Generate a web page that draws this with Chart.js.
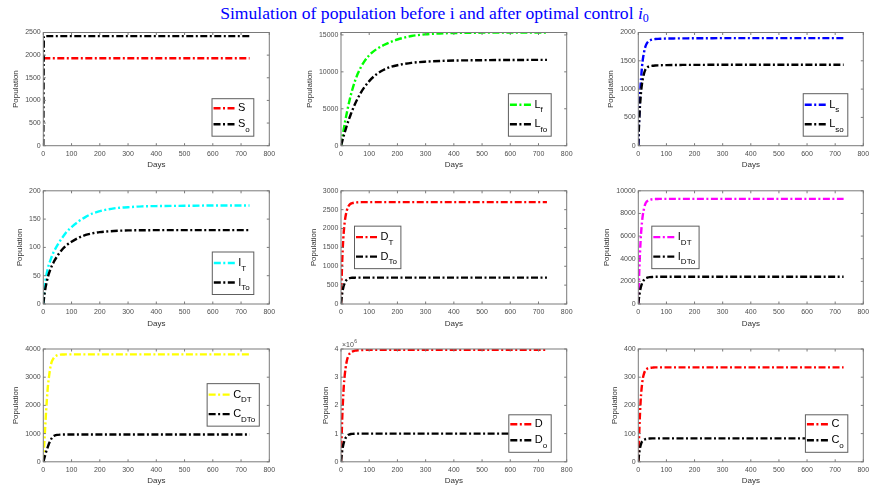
<!DOCTYPE html>
<html><head><meta charset="utf-8">
<script src="https://cdn.jsdelivr.net/npm/chart.js@4"></script>
<style>
html,body{margin:0;padding:0;background:#fff;width:869px;height:488px;overflow:hidden;position:relative}
#title{position:absolute;left:0;top:3px;width:869px;text-align:center;font:17.6px 'Liberation Serif',serif;line-height:20px;color:#0000ff;white-space:nowrap}
#title sub{font-size:12px;vertical-align:-3px;line-height:0}
canvas{position:absolute}
</style></head><body>
<div id="title">Simulation of population before i and after optimal control <i>i</i><sub>0</sub></div>
<script>
// ---------- data ----------
const days = [0, 2, 4, 6, 8, 10, 13, 16, 20, 25, 30, 35, 40, 50, 60, 70, 80, 100, 125, 150, 175, 200, 250, 300, 350, 400, 500, 600, 730];
const xTicks = [0, 100, 200, 300, 400, 500, 600, 700, 800];

const S   = [1930,1930,1930,1930,1930,1930,1930,1930,1930,1930,1930,1930,1930,1930,1930,1930,1930,1930,1930,1930,1930,1930,1930,1930,1930,1930,1930,1930,1930];
const So  = [0,2420,2420,2420,2420,2420,2420,2420,2420,2420,2420,2420,2420,2420,2420,2420,2420,2420,2420,2420,2420,2420,2420,2420,2420,2420,2420,2420,2420];

const Lf  = [0,480,950,1410,1860,2300,2940,3550,4330,5250,6100,6880,7580,8800,9800,10600,11250,12250,13050,13600,14030,14380,14850,15080,15200,15260,15310,15325,15330];
const Lfo = [0,280,560,840,1110,1380,1770,2150,2640,3220,3770,4290,4780,5680,6470,7160,7760,8750,9650,10250,10650,10900,11220,11380,11470,11530,11580,11610,11620];

const Ls  = [0,345,625,855,1045,1200,1385,1520,1640,1745,1805,1838,1857,1876,1884,1888,1890,1893,1895,1896,1897,1898,1899,1900,1900,1900,1900,1900,1900];
const Lso = [0,285,515,700,840,960,1090,1180,1270,1340,1375,1393,1403,1412,1417,1420,1422,1424,1426,1427,1428,1428,1429,1430,1430,1430,1430,1430,1430];

const IT  = [0,14,26,35,42,49,56,63,70,77,84,90,95,104,112,119,126,136,146,154,160,164,169,171,172.5,173,173.5,174,174];
const ITo = [0,8,16,23,29,34,41,47,54,61,67,72,77,85,92,98,103,110,117,122,125,127,129,130,130.3,130.5,130.6,130.6,130.6];

const DT  = [0,600,1070,1440,1720,1930,2160,2320,2460,2570,2630,2660,2675,2690,2695,2698,2700,2700,2700,2700,2700,2700,2700,2700,2700,2700,2700,2700,2700];
const DTo = [0,150,270,360,430,490,550,600,640,670,685,692,695,698,700,700,700,700,700,700,700,700,700,700,700,700,700,700,700];

const IDT  = [0,1800,3300,4500,5500,6300,7200,7850,8400,8850,9050,9150,9200,9250,9270,9280,9290,9290,9290,9290,9290,9290,9290,9290,9290,9290,9290,9290,9290];
const IDTo = [0,450,820,1120,1370,1570,1800,1970,2120,2250,2310,2350,2370,2390,2400,2405,2410,2410,2410,2410,2410,2410,2410,2410,2410,2410,2410,2410,2410];

const CDT  = [0,400,750,1100,1450,1800,2250,2650,3000,3350,3550,3650,3720,3780,3800,3805,3810,3810,3810,3810,3810,3810,3810,3810,3810,3810,3810,3810,3810];
const CDTo = [0,70,140,210,280,350,440,530,640,750,840,900,930,955,965,968,970,970,970,970,970,970,970,970,970,970,970,970,970];

const D   = [0,800000,1450000,1950000,2350000,2700000,3050000,3300000,3550000,3730000,3830000,3880000,3910000,3940000,3955000,3960000,3965000,3970000,3970000,3970000,3970000,3970000,3970000,3970000,3970000,3970000,3970000,3970000,3970000];
const Do  = [0,200000,370000,500000,600000,680000,770000,840000,900000,950000,970000,985000,990000,995000,1000000,1000000,1000000,1000000,1000000,1000000,1000000,1000000,1000000,1000000,1000000,1000000,1000000,1000000,1000000];

const C   = [0,60,120,170,210,240,272,295,312,324,329,332,333,334,335,335,335,335,335,335,335,335,335,335,335,335,335,335,335];
const Co  = [0,20,36,48,57,64,71,75,78,80,81.5,82,82.5,83,83,83,83,83,83,83,83,83,83,83,83,83,83,83,83];

const yTicks1 = [0,500,1000,1500,2000,2500];
const yTicks2 = [0,5000,10000,15000];
const yTicks3 = [0,500,1000,1500,2000];
const yTicks4 = [0,50,100,150,200];
const yTicks5 = [0,500,1000,1500,2000,2500,3000];
const yTicks6 = [0,2000,4000,6000,8000,10000];
const yTicks7 = [0,1000,2000,3000,4000];
const yTicks8 = [0,1000000,2000000,3000000,4000000];
const yTicks9 = [0,100,200,300,400];

const yMax = [2500, 15330, 2000, 200, 3000, 10000, 4000, 4000000, 400];

const legendMain = [["S","S"],["L","L"],["L","L"],["I","I"],["D","D"],["I","I"],["C","C"],["D","D"],["C","C"]];
const legendSub  = [["","o"],["f","fo"],["s","so"],["T","To"],["T","To"],["DT","DTo"],["DT","DTo"],["","o"],["","o"]];
const seriesColors = ["#ff0000","#00ff00","#0000ff","#00ffff","#ff0000","#ff00ff","#ffff00","#ff0000","#ff0000"];

// ---------- layout / styling ----------
const series = [[S,So],[Lf,Lfo],[Ls,Lso],[IT,ITo],[DT,DTo],[IDT,IDTo],[CDT,CDTo],[D,Do],[C,Co]];
const yTicksAll = [yTicks1,yTicks2,yTicks3,yTicks4,yTicks5,yTicks6,yTicks7,yTicks8,yTicks9];
const legendLoc = ["se","se","se","se","w","w","e","se","se"];
const cols = [{x:43.3,w:226},{x:341,w:225.7},{x:638.3,w:225}];
const rows = [{y:32.5,h:113.2},{y:190.8,h:113.2},{y:349,h:112.8}];
const DASH = [7,2.5,2,2.5];
const LW = 2.4;
const FONT = '"Liberation Sans", Arial, sans-serif';

function drawLegend(ctx, a, k) {
  const main = legendMain[k], sub = legendSub[k];
  const mainFont = '11px ' + FONT, subFont = '8px ' + FONT;
  let wmax = 0;
  for (let i = 0; i < 2; i++) {
    ctx.font = mainFont; let w = ctx.measureText(main[i]).width;
    ctx.font = subFont; w += ctx.measureText(sub[i]).width;
    wmax = Math.max(wmax, w);
  }
  const bw = 1.5 + 22 + 2.5 + wmax + 4;
  const tall = sub[0] !== '';
  const bh = tall ? 42.5 : 37.5;
  const ry = tall ? [11, 30.5] : [9.5, 25.5];
  let bx, by;
  const loc = legendLoc[k];
  if (loc === 'se') { bx = a.right - 15.5 - bw; by = a.bottom - 9.5 - bh; }
  else if (loc === 'w') { bx = a.left + 13.5; by = (a.top + a.bottom) / 2 - bh / 2; }
  else { bx = a.right - 10 - bw; by = (a.top + a.bottom) / 2 - bh / 2 - 0.5; }
  ctx.fillStyle = '#fff'; ctx.fillRect(bx, by, bw, bh);
  ctx.strokeStyle = '#5e5e5e'; ctx.lineWidth = 1; ctx.setLineDash([]);
  ctx.strokeRect(bx, by, bw, bh);
  const cl = [seriesColors[k], '#000000'];
  for (let i = 0; i < 2; i++) {
    const yy = by + ry[i];
    ctx.save();
    ctx.setLineDash(DASH); ctx.strokeStyle = cl[i]; ctx.lineWidth = LW;
    ctx.beginPath(); ctx.moveTo(bx + 1.5, yy); ctx.lineTo(bx + 23.5, yy); ctx.stroke();
    ctx.restore();
    ctx.fillStyle = '#000'; ctx.textAlign = 'left'; ctx.textBaseline = 'middle';
    ctx.font = mainFont; ctx.fillText(main[i], bx + 26, yy);
    const mw = ctx.measureText(main[i]).width;
    ctx.font = subFont; ctx.fillText(sub[i], bx + 26 + mw, yy + 5.5);
  }
}

function makeChart(k) {
  const col = cols[k % 3], row = rows[Math.floor(k / 3)];
  const cLeft = Math.floor(col.x) - 46, cTop = Math.floor(row.y) - 15;
  const W = Math.ceil(col.x + col.w + 10) - cLeft;
  const H = Math.ceil(row.y + row.h + 28) - cTop;
  const yW = col.x - cLeft, padTop = row.y - cTop;
  const padRight = cLeft + W - (col.x + col.w);
  const xH = cTop + H - (row.y + row.h);
  const cv = document.createElement('canvas');
  cv.width = W; cv.height = H;
  cv.style.left = cLeft + 'px'; cv.style.top = cTop + 'px';
  cv.style.width = W + 'px'; cv.style.height = H + 'px';
  document.body.appendChild(cv);
  const yT = yTicksAll[k];
  const isD = (k === 7);
  const boxPlugin = {
    id: 'box' + k,
    afterDraw(chart) {
      const {ctx, chartArea: a, scales: {x, y}} = chart;
      ctx.save();
      ctx.strokeStyle = '#7a7a7a'; ctx.lineWidth = 1; ctx.setLineDash([]);
      ctx.strokeRect(a.left, a.top, a.right - a.left, a.bottom - a.top);
      const tl = 2.5;
      ctx.beginPath();
      xTicks.forEach(v => { const p = x.getPixelForValue(v);
        ctx.moveTo(p, a.bottom); ctx.lineTo(p, a.bottom - tl);
        ctx.moveTo(p, a.top); ctx.lineTo(p, a.top + tl); });
      yT.forEach(v => { const p = y.getPixelForValue(v);
        ctx.moveTo(a.left, p); ctx.lineTo(a.left + tl, p);
        ctx.moveTo(a.right, p); ctx.lineTo(a.right - tl, p); });
      ctx.stroke();
      ctx.fillStyle = '#333'; ctx.textAlign = 'center'; ctx.textBaseline = 'middle';
      ctx.font = '8px ' + FONT;
      ctx.fillText('Days', (a.left + a.right) / 2, a.bottom + 19.3);
      ctx.font = '7px ' + FONT;
      let wMax = 0;
      y.ticks.forEach(t => { wMax = Math.max(wMax, ctx.measureText(String(t.label)).width); });
      const cx = a.left - 3 - wMax - 4.2 - 4.5;
      ctx.save();
      ctx.translate(cx, (a.top + a.bottom) / 2); ctx.rotate(-Math.PI / 2);
      ctx.font = '8px ' + FONT; ctx.fillText('Population', 0, 0);
      ctx.restore();
      if (isD) {
        ctx.fillStyle = '#4d4d4d'; ctx.textAlign = 'left'; ctx.textBaseline = 'alphabetic';
        ctx.font = '7px ' + FONT;
        ctx.fillText('\u00d710', a.left + 1, a.top - 2.5);
        const w = ctx.measureText('\u00d710').width;
        ctx.font = '5px ' + FONT;
        ctx.fillText('6', a.left + 1 + w + 0.5, a.top - 6);
      }
      drawLegend(ctx, a, k);
      ctx.restore();
    }
  };
  const mk = (arr) => days.map((d, i) => ({x: d, y: arr[i]}));
  new Chart(cv, {
    type: 'line',
    data: {
      datasets: [
        {data: mk(series[k][0]), borderColor: seriesColors[k], borderWidth: LW, borderDash: DASH,
         pointRadius: 0, order: 1, cubicInterpolationMode: 'monotone', fill: false},
        {data: mk(series[k][1]), borderColor: '#000000', borderWidth: LW, borderDash: DASH,
         pointRadius: 0, order: 0, cubicInterpolationMode: 'monotone', fill: false}
      ]
    },
    options: {
      responsive: false, animation: false, devicePixelRatio: 1,
      layout: {padding: {left: 0, top: padTop, right: padRight, bottom: 0}, autoPadding: false},
      plugins: {legend: {display: false}, tooltip: {enabled: false}, title: {display: false}},
      scales: {
        x: {type: 'linear', min: 0, max: 800,
            grid: {display: false, drawTicks: false, tickLength: 0}, border: {display: false},
            afterBuildTicks: s => { s.ticks = xTicks.map(v => ({value: v})); },
            afterFit: s => { s.height = xH; },
            ticks: {autoSkip: false, maxRotation: 0, minRotation: 0, padding: 4, color: '#4d4d4d',
                    font: {family: FONT, size: 7}, callback: v => String(v)}},
        y: {type: 'linear', min: 0, max: yMax[k],
            grid: {display: false, drawTicks: false, tickLength: 0}, border: {display: false},
            afterBuildTicks: s => { s.ticks = yT.map(v => ({value: v})); },
            afterFit: s => { s.width = yW; },
            ticks: {autoSkip: false, padding: 2.6, color: '#4d4d4d',
                    font: {family: FONT, size: 7}, callback: v => String(isD ? v / 1000000 : v)}}
      }
    },
    plugins: [boxPlugin]
  });
}
for (let k = 0; k < 9; k++) makeChart(k);
</script>
</body></html>
